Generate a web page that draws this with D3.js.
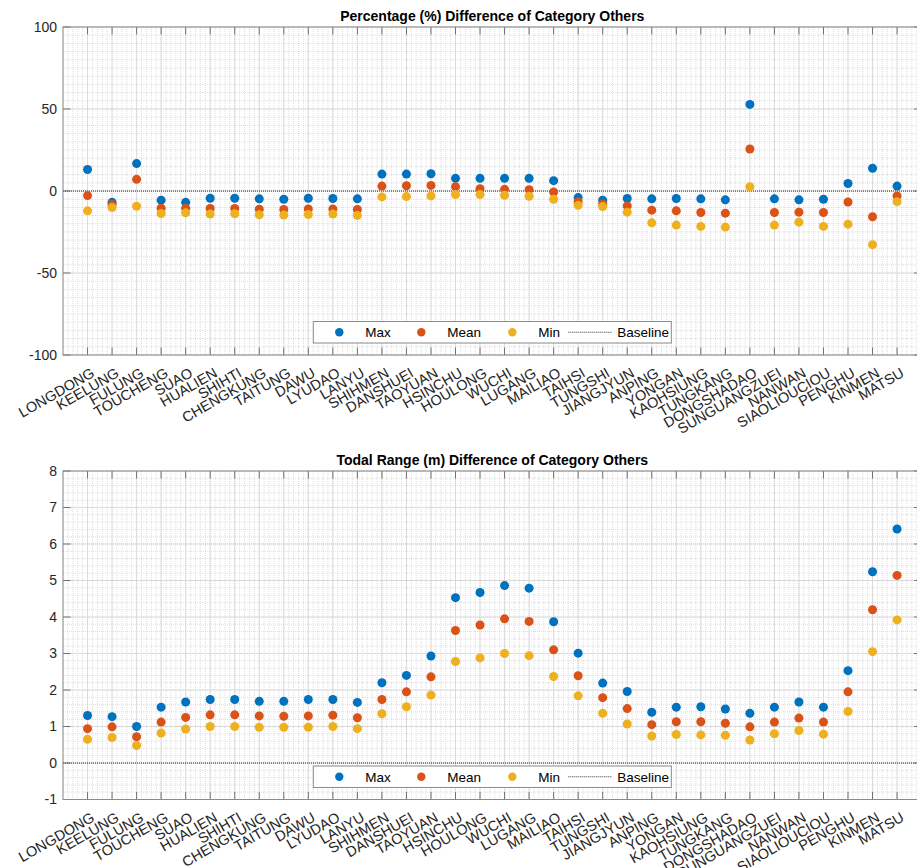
<!DOCTYPE html>
<html>
<head>
<meta charset="utf-8">
<script src="https://cdn.jsdelivr.net/npm/d3@7"></script>
<style>
  body { margin: 0; background: #fff; }
  svg { display: block; font-family: "Liberation Sans", Arial, Helvetica, sans-serif; }
</style>
</head>
<body>
<svg id="chart" width="917" height="868"></svg>
<script>
// station names (x axis)
const stations = ["LONGDONG", "KEELUNG", "FULUNG", "TOUCHENG", "SUAO", "HUALIEN", "SHIHTI", "CHENGKUNG",
    "TAITUNG", "DAWU", "LYUDAO", "LANYU", "SHIHMEN", "DANSHUEI", "TAOYUAN", "HSINCHU", "HOULONG", "WUCHI",
    "LUGANG", "MAILIAO", "TAIHSI", "TUNGSHI", "JIANGJYUN", "ANPING", "YONGAN", "KAOHSIUNG", "TUNGKANG",
    "DONGSHADAO", "SUNGUANGZUEI", "NANWAN", "SIAOLIOUCIOU", "PENGHU", "KINMEN", "MATSU"];

// percentage difference (%)
const pctMax = [13.1, -6.9, 16.7, -5.6, -6.9, -4.4, -4.4, -4.8, -5.0, -4.4, -4.6, -4.8, 10.3, 10.3, 10.5, 7.7,
    7.7, 7.7, 7.7, 6.3, -4.0, -5.6, -4.6, -4.8, -4.6, -4.8, -5.4, 52.8, -4.8, -5.4, -5.0, 4.6, 13.9, 3.0];
const pctMean = [-2.8, -8.3, 7.1, -10.5, -10.5, -10.7, -10.7, -11.1, -11.3, -10.9, -10.9, -11.3, 3.0, 3.2, 3.4, 2.6,
    1.4, 1.0, 0.8, -0.6, -6.5, -7.9, -9.1, -11.7, -12.1, -13.1, -13.5, 25.6, -13.1, -12.9, -13.1, -6.7, -15.7, -3.0];
const pctMin = [-12.1, -10.1, -9.3, -13.7, -13.3, -14.1, -13.9, -14.5, -14.7, -14.3, -14.1, -14.9, -3.6, -3.4, -3.0, -2.1,
    -2.2, -2.6, -3.2, -5.0, -8.7, -9.5, -12.9, -19.4, -20.8, -21.6, -22.0, 2.6, -20.8, -19.0, -21.6, -20.2, -32.7, -6.5];

// tidal range difference (m)
const tideMax = [1.30, 1.27, 1.00, 1.53, 1.67, 1.74, 1.74, 1.69, 1.69, 1.74, 1.74, 1.66, 2.20, 2.40, 2.93, 4.53,
    4.67, 4.86, 4.79, 3.87, 3.01, 2.19, 1.96, 1.39, 1.53, 1.54, 1.48, 1.36, 1.53, 1.67, 1.53, 2.53, 5.24, 6.41];
const tideMean = [0.94, 0.99, 0.72, 1.12, 1.25, 1.32, 1.32, 1.29, 1.28, 1.29, 1.31, 1.24, 1.74, 1.95, 2.36, 3.63,
    3.78, 3.95, 3.88, 3.10, 2.39, 1.79, 1.49, 1.05, 1.13, 1.13, 1.09, 0.99, 1.12, 1.23, 1.12, 1.95, 4.20, 5.14];
const tideMin = [0.65, 0.70, 0.48, 0.82, 0.93, 1.00, 1.00, 0.98, 0.98, 0.98, 1.00, 0.94, 1.35, 1.54, 1.86, 2.78,
    2.88, 3.00, 2.94, 2.37, 1.84, 1.36, 1.07, 0.74, 0.78, 0.77, 0.76, 0.63, 0.80, 0.89, 0.79, 1.41, 3.05, 3.92];

const pctTicks = [-100, -50, 0, 50, 100];
const tideTicks = [-1, 0, 1, 2, 3, 4, 5, 6, 7, 8];

const seriesNames = ["Max", "Mean", "Min"];
const colors = ["#0072BD", "#D95319", "#EDB120"];

const svg = d3.select('#chart');

const left = 63, right = 921.6;
const x = d3.scaleLinear().domain([0, stations.length + 1]).range([left, right]);

function drawPanel(opt) {
    const y = d3.scaleLinear().domain(opt.domain).range([opt.bottom, opt.top]);
    const g = svg.append('g');

    g.append('rect')
     .attr('x', left).attr('y', opt.top)
     .attr('width', right - left).attr('height', opt.bottom - opt.top)
     .attr('fill', '#fff');

    // minor grid
    const yMinor = d3.range(opt.domain[0], opt.domain[1] + 1e-9, opt.minorStep);
    g.selectAll('.ym').data(yMinor).join('line')
     .attr('x1', left).attr('x2', right)
     .attr('y1', d => y(d)).attr('y2', d => y(d))
     .attr('stroke', '#c8c8c8').attr('stroke-width', 0.6)
     .attr('stroke-dasharray', '1,1');
    const xMinor = d3.range(0, stations.length + 1 + 1e-9, 0.2);
    g.selectAll('.xm').data(xMinor).join('line')
     .attr('x1', d => x(d)).attr('x2', d => x(d))
     .attr('y1', opt.top).attr('y2', opt.bottom)
     .attr('stroke', '#c8c8c8').attr('stroke-width', 0.6)
     .attr('stroke-dasharray', '1,1');

    // major grid
    g.selectAll('.yg').data(opt.ticks).join('line')
     .attr('x1', left).attr('x2', right)
     .attr('y1', d => y(d)).attr('y2', d => y(d))
     .attr('stroke', '#d6d6d6').attr('stroke-width', 0.8);
    g.selectAll('.xg').data(stations).join('line')
     .attr('x1', (d, i) => x(i + 1)).attr('x2', (d, i) => x(i + 1))
     .attr('y1', opt.top).attr('y2', opt.bottom)
     .attr('stroke', '#d6d6d6').attr('stroke-width', 0.8);

    // baseline
    g.append('line')
     .attr('x1', x(0)).attr('x2', x(stations.length + 1))
     .attr('y1', y(0)).attr('y2', y(0))
     .attr('stroke', '#000').attr('stroke-width', 0.8)
     .attr('stroke-dasharray', '1,1');

    // points
    opt.series.forEach((vals, k) => {
        g.selectAll('.p' + k).data(vals).join('circle')
         .attr('cx', (d, i) => x(i + 1))
         .attr('cy', d => y(d))
         .attr('r', 4.5)
         .attr('fill', colors[k]);
    });

    // ticks
    const tl = 7.5;
    g.selectAll('.xt').data(stations).join('path')
     .attr('d', (d, i) => `M${x(i + 1)},${opt.bottom}v${-tl}M${x(i + 1)},${opt.top}v${tl}`)
     .attr('stroke', '#555').attr('stroke-width', 0.8);
    g.selectAll('.yt').data(opt.ticks).join('path')
     .attr('d', d => `M${left},${y(d)}h${tl}M${right},${y(d)}h${-tl}`)
     .attr('stroke', '#555').attr('stroke-width', 0.8);

    // box
    g.append('rect')
     .attr('x', left).attr('y', opt.top)
     .attr('width', right - left).attr('height', opt.bottom - opt.top)
     .attr('fill', 'none').attr('stroke', '#8a8a8a').attr('stroke-width', 1);

    // tick labels
    g.selectAll('.yl').data(opt.ticks).join('text')
     .attr('x', left - 6).attr('y', d => y(d))
     .attr('dy', '0.35em')
     .attr('text-anchor', 'end')
     .attr('font-size', '14px')
     .attr('fill', '#262626')
     .text(d => d);
    g.selectAll('.xl').data(stations).join('text')
     .attr('transform', (d, i) => `translate(${x(i + 1) + 3},${opt.bottom + 12}) rotate(-30)`)
     .attr('dy', '0.7em')
     .attr('text-anchor', 'end')
     .attr('font-size', '14.5px')
     .attr('fill', '#262626')
     .text(d => d);

    // title
    g.append('text')
     .attr('x', (left + right) / 2).attr('y', opt.top - 6)
     .attr('text-anchor', 'middle')
     .attr('font-size', '14px')
     .attr('font-weight', 'bold')
     .attr('fill', '#000')
     .text(opt.title);

    // legend
    const lw = 358, lh = 21.5;
    const lx = (left + right) / 2 - lw / 2, ly = opt.bottom - 12 - lh;
    const lg = g.append('g').attr('transform', `translate(${lx},${ly})`);
    lg.append('rect').attr('width', lw).attr('height', lh)
      .attr('fill', '#fff').attr('stroke', '#8a8a8a').attr('stroke-width', 1);
    const itemX = [26, 108, 199];
    seriesNames.forEach((name, k) => {
        lg.append('circle').attr('cx', itemX[k]).attr('cy', lh / 2).attr('r', 4.2).attr('fill', colors[k]);
        lg.append('text').attr('x', itemX[k] + 26).attr('y', lh / 2).attr('dy', '0.36em')
          .attr('font-size', '13.5px').attr('fill', '#000').text(name);
    });
    lg.append('line').attr('x1', 255).attr('x2', 299).attr('y1', lh / 2).attr('y2', lh / 2)
      .attr('stroke', '#000').attr('stroke-width', 0.8).attr('stroke-dasharray', '1,1');
    lg.append('text').attr('x', 304).attr('y', lh / 2).attr('dy', '0.36em')
      .attr('font-size', '13.5px').attr('fill', '#000').text('Baseline');
}

drawPanel({
    title: 'Percentage (%) Difference of Category Others',
    top: 27, bottom: 355, domain: [-100, 100], ticks: pctTicks, minorStep: 5,
    series: [pctMax, pctMean, pctMin]
});

drawPanel({
    title: 'Todal Range (m) Difference of Category Others',
    top: 471, bottom: 799.5, domain: [-1, 8], ticks: tideTicks, minorStep: 0.2,
    series: [tideMax, tideMean, tideMin]
});
</script>
</body>
</html>
